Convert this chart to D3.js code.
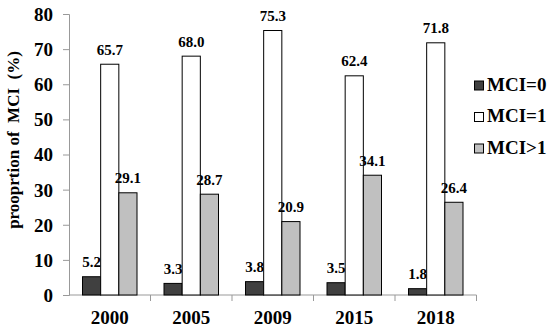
<!DOCTYPE html>
<html>
<head>
<meta charset="utf-8">
<script src="https://cdn.jsdelivr.net/npm/d3@7"></script>
<style>
  body { margin: 0; background: #fff; }
  svg text { font-family: "Times New Roman", "Liberation Serif", serif; font-weight: bold; fill: #000; }
</style>
</head>
<body>
<svg id="chart" width="550" height="332"></svg>
<script>
const years = ["2000", "2005", "2009", "2015", "2018"];
const seriesNames = ["MCI=0", "MCI=1", "MCI>1"];
const mci0 = [5.2, 3.3, 3.8, 3.5, 1.8];
const mci1 = [65.7, 68.0, 75.3, 62.4, 71.8];
const mciGt1 = [29.1, 28.7, 20.9, 34.1, 26.4];
const yTicks = [0, 10, 20, 30, 40, 50, 60, 70, 80];

const colors = ["#404040", "#ffffff", "#c0c0c0"];
const series = [mci0, mci1, mciGt1];

const svg = d3.select("#chart");
const plotLeft = 69, plotRight = 476.5, plotTop = 14, plotBottom = 295;

const x = d3.scaleBand().domain(years).range([plotLeft, plotRight]).paddingInner(0).paddingOuter(0);
const inner = d3.scaleBand().domain(d3.range(3)).range([13.5, x.bandwidth() - 13.5]);
const y = d3.scaleLinear().domain([0, 80]).range([plotBottom, plotTop]);

// y axis
const yAxis = svg.append("g").attr("transform", `translate(${plotLeft},0)`)
  .call(d3.axisLeft(y).tickValues(yTicks).tickSize(6).tickPadding(10));
yAxis.select(".domain").attr("stroke", "#999");
yAxis.selectAll(".tick line").attr("stroke", "#999");
yAxis.selectAll("text").style("font-size", "19px").attr("dy", "0.34em");

// x axis with ticks at category boundaries
const xAxisG = svg.append("g").attr("transform", `translate(0,${plotBottom})`);
xAxisG.append("line").attr("x1", plotLeft).attr("x2", plotRight).attr("stroke", "#999");
const bounds = years.slice(1).map(d => x(d)).concat([plotRight]);
xAxisG.selectAll(".bnd").data(bounds).join("line")
  .attr("class", "bnd")
  .attr("x1", d => d).attr("x2", d => d)
  .attr("y1", 0).attr("y2", 6).attr("stroke", "#999");
xAxisG.selectAll(".yl").data(years).join("text")
  .attr("class", "yl")
  .attr("x", d => x(d) + x.bandwidth() / 2)
  .attr("y", 28.5)
  .attr("text-anchor", "middle")
  .style("font-size", "19px")
  .text(d => d);

// bars
series.forEach((vals, s) => {
  const g = svg.append("g");
  g.selectAll("rect").data(vals).join("rect")
    .attr("x", (d, i) => x(years[i]) + inner(s))
    .attr("y", d => y(d))
    .attr("width", inner.bandwidth())
    .attr("height", d => y(0) - y(d))
    .attr("fill", colors[s])
    .attr("stroke", "#000")
    .attr("stroke-width", 1);
  g.selectAll("text").data(vals).join("text")
    .attr("x", (d, i) => x(years[i]) + inner(s) + inner.bandwidth() / 2)
    .attr("y", d => y(d) - 9.5)
    .attr("text-anchor", "middle")
    .style("font-size", "15px")
    .text(d => d.toFixed(1));
});

// y title
svg.append("text")
  .attr("transform", "translate(19,140) rotate(-90)")
  .attr("text-anchor", "middle")
  .style("font-size", "17px")
  .style("white-space", "pre")
  .text("prooprtion of  MCI  (%)");

// legend
const legend = svg.append("g").attr("transform", "translate(474.5,85.5)");
seriesNames.forEach((name, i) => {
  const row = legend.append("g").attr("transform", `translate(0,${i * 31.5})`);
  row.append("rect").attr("x", 0).attr("y", -4.5).attr("width", 9).attr("height", 9)
    .attr("fill", colors[i]).attr("stroke", "#000").attr("stroke-width", 1);
  row.append("text").attr("x", 12.5).attr("y", 5).style("font-size", "19px").text(name);
});
</script>
</body>
</html>
